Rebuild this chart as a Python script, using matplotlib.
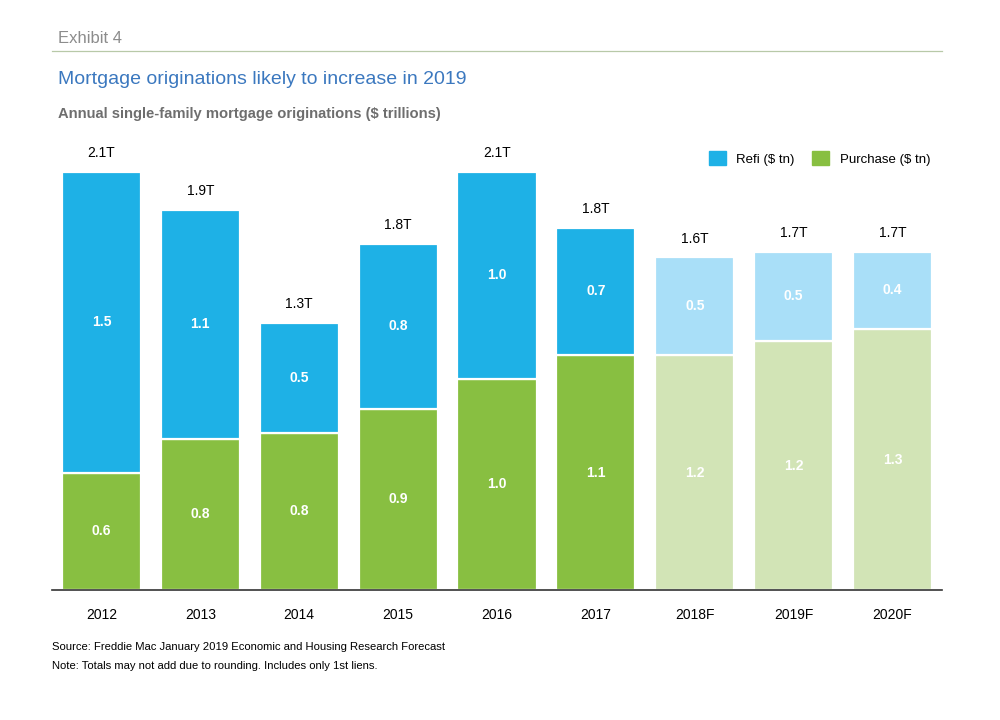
import matplotlib
matplotlib.use('Agg')
import matplotlib.pyplot as plt
import matplotlib.patches as mpatches

plt.rcParams['font.family'] = ['Liberation Sans', 'DejaVu Sans']

# ── Data ────────────────────────────────────────────────────────────────────
years    = ["2012", "2013", "2014", "2015", "2016", "2017", "2018F", "2019F", "2020F"]
purchase = [0.59, 0.76, 0.79, 0.91, 1.06, 1.18, 1.18, 1.25, 1.31]
refi     = [1.51, 1.15, 0.55, 0.83, 1.04, 0.64, 0.49, 0.45, 0.39]
purchase_lbl = ["0.6", "0.8", "0.8", "0.9", "1.0", "1.1", "1.2", "1.2", "1.3"]
refi_lbl     = ["1.5", "1.1", "0.5", "0.8", "1.0", "0.7", "0.5", "0.5", "0.4"]
total_lbl    = ["2.1T", "1.9T", "1.3T", "1.8T", "2.1T", "1.8T", "1.6T", "1.7T", "1.7T"]
forecast     = [False] * 6 + [True] * 3

# ── Colours ────────────────────────────────────────────────────────────────
REFI      = "#1EB1E6"
REFI_F    = "#A9DFF8"
PURCH     = "#88BF41"
PURCH_F   = "#D2E4B6"
TITLE     = "#3B78BF"
GREY      = "#8C8C8C"

fig = plt.figure(figsize=(10, 7.2), dpi=100)
ax = fig.add_axes([0.052, 0.1806, 0.89, 0.636])

x = range(len(years))
pc = [PURCH_F if f else PURCH for f in forecast]
rc = [REFI_F if f else REFI for f in forecast]
ax.bar(x, purchase, width=0.8, color=pc, edgecolor="white", linewidth=1.6, zorder=2)
ax.bar(x, refi, bottom=purchase, width=0.8, color=rc, edgecolor="white",
       linewidth=1.6, zorder=2)

for i in x:
    ax.text(i, purchase[i] / 2, purchase_lbl[i], ha="center", va="center",
            color="white", fontsize=10, fontweight="bold")
    ax.text(i, purchase[i] + refi[i] / 2, refi_lbl[i], ha="center", va="center",
            color="white", fontsize=10, fontweight="bold")
    ax.text(i, purchase[i] + refi[i] + 0.06, total_lbl[i], ha="center",
            va="bottom", color="black", fontsize=10)

ax.set_xlim(-0.5, len(years) - 0.5)
ax.set_ylim(0, 2.3)
ax.set_xticks(list(x))
ax.set_xticklabels(years, fontsize=10)
ax.tick_params(axis="x", length=0, pad=13)
ax.set_yticks([])
for s in ["top", "right", "left"]:
    ax.spines[s].set_visible(False)
ax.spines["bottom"].set_color("#333333")
ax.spines["bottom"].set_linewidth(1.2)

handles = [mpatches.Patch(color=REFI, label="Refi ($ tn)"),
           mpatches.Patch(color=PURCH, label="Purchase ($ tn)")]
fig.legend(handles=handles, loc="center right", bbox_to_anchor=(0.942, 0.78),
           ncol=2, frameon=False, fontsize=9.5, handlelength=1.3,
           handleheight=1.3, columnspacing=1.3, handletextpad=0.8)

# ── Header / footer ─────────────────────────────────────────────────────────
fig.text(0.058, 0.947, "Exhibit 4", fontsize=12, color=GREY, va="center")
fig.add_artist(plt.Line2D([0.052, 0.942], [0.929, 0.929], color="#B8C9A8", lw=0.9))
fig.text(0.058, 0.889, "Mortgage originations likely to increase in 2019",
         fontsize=14, color=TITLE, va="center")
fig.text(0.058, 0.842, "Annual single-family mortgage originations ($ trillions)",
         fontsize=10.6, color="#6E6E6E", va="center", fontweight="bold")
fig.text(0.052, 0.101, "Source: Freddie Mac January 2019 Economic and Housing Research Forecast",
         fontsize=8.1, color="black", va="center")
fig.text(0.052, 0.075, "Note: Totals may not add due to rounding. Includes only 1st liens.",
         fontsize=8.1, color="black", va="center")

fig.savefig("out.png", dpi=100, facecolor="white")
